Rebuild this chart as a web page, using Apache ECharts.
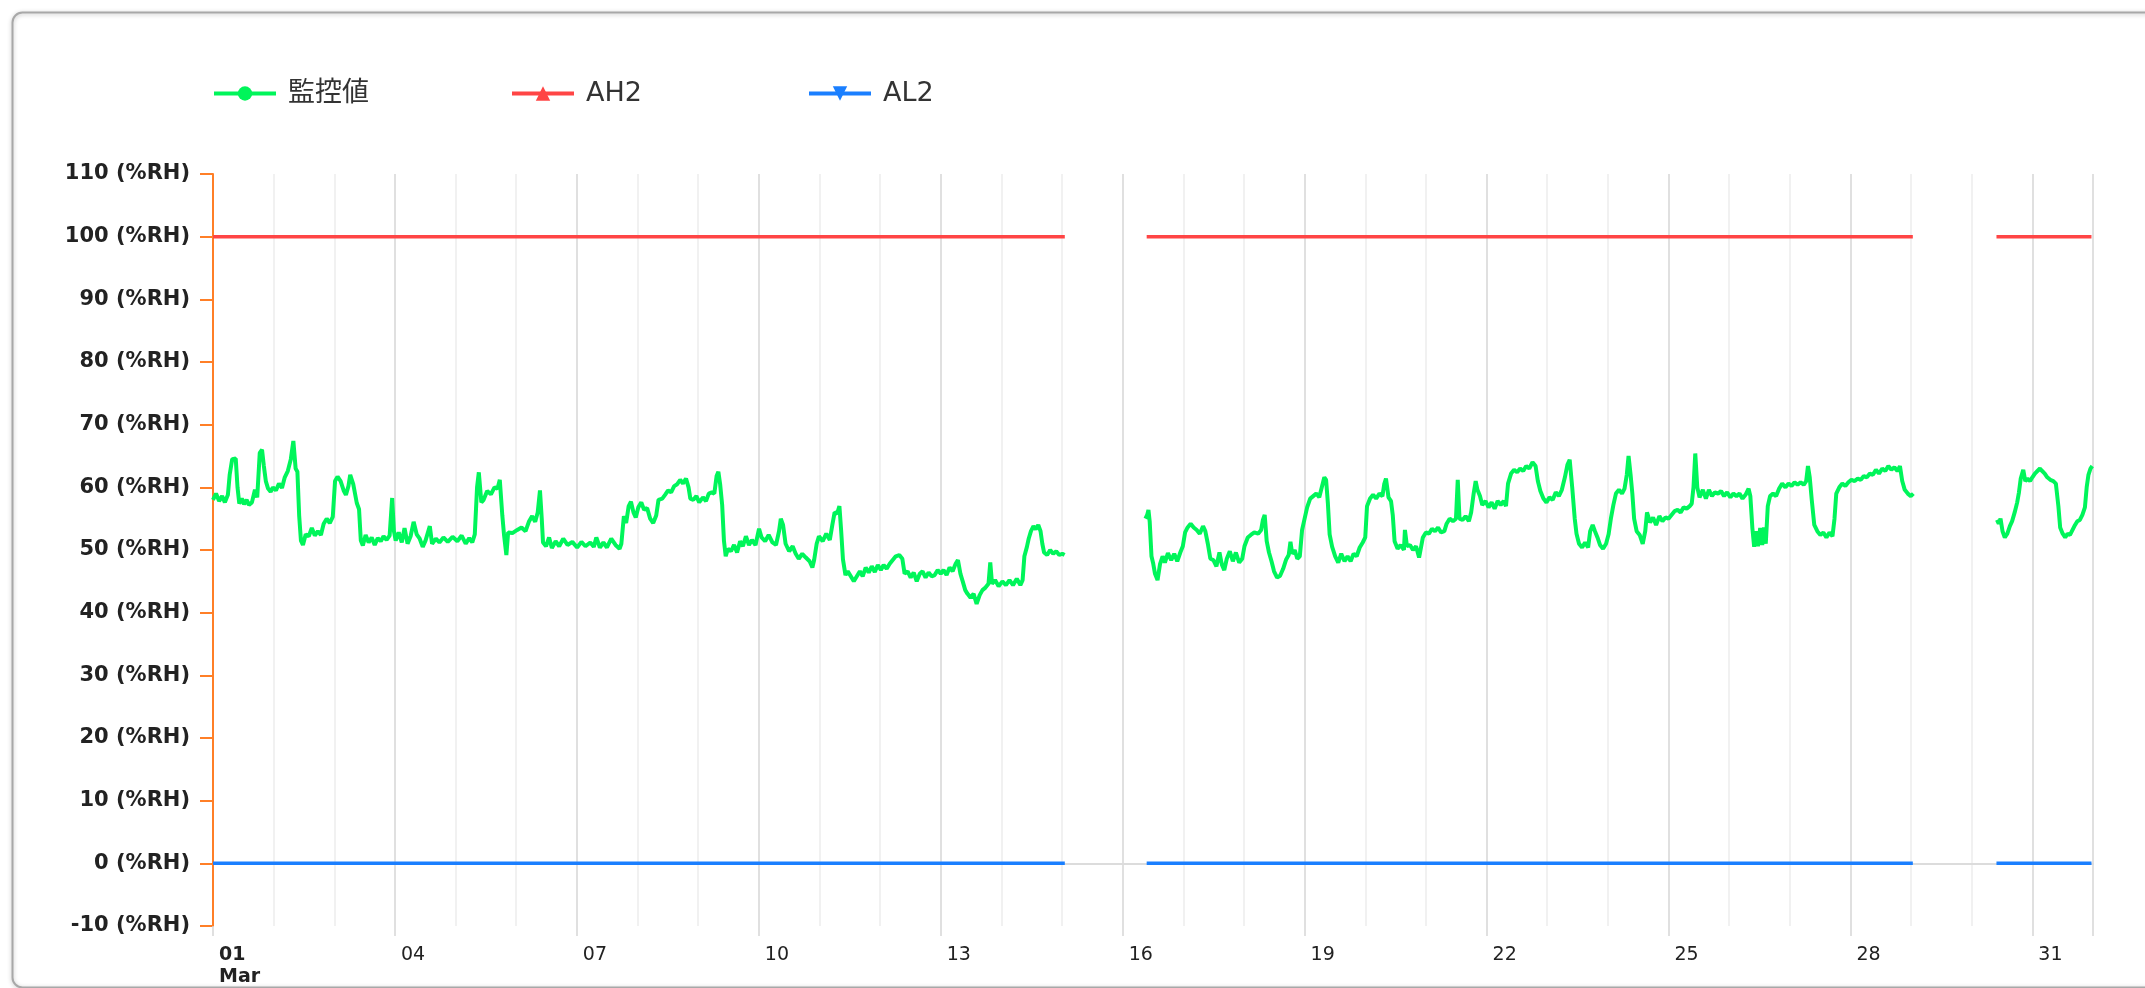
<!DOCTYPE html>
<html>
<head>
<meta charset="utf-8">
<script src="https://cdn.jsdelivr.net/npm/echarts@6/dist/echarts.min.js"></script>
<style>
html,body{margin:0;padding:0;background:#fff;}
#chart{width:2145px;height:988px;}
</style>
</head>
<body>
<div id="chart"></div>
<script>
// x values are hours since 01 Mar 00:00
const seriesNames = ['監控値', 'AH2', 'AL2'];
const xTickLabels = ['01', '04', '07', '10', '13', '16', '19', '22', '25', '28', '31'];
const monthLabel = 'Mar';
const yUnit = '(%RH)';

const monitorSeg1 = [
[0,58.0],[1.2,59.0],[2.4,57.8],[3.6,58.6],[4.7,57.6],[5.9,58.8],[6.6,62.0],[7.6,64.5],[9.0,64.6],[9.7,60],
[10.4,57.4],[11.4,58.2],[12.3,57.3],[13.3,58.0],[14.2,57.2],[15.4,57.6],[16.6,59.6],[17.5,58.4],[18.5,65.5],[19.4,66.0],
[20.1,63.5],[20.9,61.0],[21.8,59.8],[22.8,59.3],[23.7,60.0],[24.9,59.5],[26.1,60.6],[27.3,59.9],[28.4,61.6],[29.6,62.6],
[30.8,64.5],[31.8,67.4],[32.7,63.0],[33.4,62.5],[34.1,55.5],[34.8,51.5],[35.6,50.8],[36.7,52.5],[37.9,52.2],[39.1,53.5],
[40.3,52.3],[41.5,53.0],[42.7,52.4],[43.8,54.2],[45.0,55.0],[46.2,54.3],[47.4,55.3],[48.3,61.0],[49.3,61.7],[50.5,61.0],
[51.7,59.5],[52.6,58.8],[53.6,60.2],[54.3,62.0],[55.5,60.5],[56.9,57.5],[57.8,56.5],[58.5,51.5],[59.3,50.7],[60.4,52.4],
[61.6,51.2],[62.8,52.0],[64.0,50.8],[65.2,51.9],[66.4,51.4],[67.5,52.2],[68.7,51.6],[69.9,52.3],[70.9,58.3],[71.6,53.0],
[72.3,51.5],[73.5,52.8],[74.7,51.2],[75.8,53.5],[77.0,51.0],[78.2,52.2],[79.4,54.5],[80.6,52.5],[81.8,51.8],[83.0,50.5],
[84.1,51.5],[85.8,53.8],[86.7,51.0],[88.2,51.8],[89.6,51.2],[91.2,52.0],[92.9,51.3],[94.8,52.1],[96.7,51.4],[98.4,52.3],
[100.0,51.0],[101.4,51.9],[102.6,51.2],[103.6,52.5],[104.5,60.0],[105.2,62.4],[106.2,57.6],[107.1,58.0],[108.5,59.4],[110.0,58.9],
[111.4,60.0],[112.6,59.8],[113.5,61.2],[114.5,55.5],[115.2,52.3],[116.1,49.2],[116.8,52.8],[118.5,52.7],[120.4,53.2],[122.1,53.6],
[123.7,53.0],[125.1,54.6],[126.3,55.4],[127.5,54.5],[128.5,56.0],[129.4,59.5],[130.1,55.0],[130.6,51.2],[131.8,50.6],[133.0,52.0],
[134.1,50.3],[135.6,51.4],[137.0,50.6],[138.6,51.8],[140.3,50.8],[142.2,51.3],[144.1,50.4],[145.8,51.3],[147.4,50.6],[149.3,51.2],
[150.7,50.5],[151.7,52.0],[153.1,50.4],[154.5,51.2],[155.9,50.4],[157.6,51.8],[159.3,50.8],[160.9,50.2],[161.6,51.0],[162.6,55.4],
[163.5,54.3],[164.5,57.0],[165.4,57.7],[166.4,56.0],[167.3,55.2],[168.3,56.8],[169.5,57.6],[170.6,56.4],[171.8,56.7],[173.0,55.0],
[174.2,54.3],[175.4,55.5],[176.3,58.0],[177.8,58.2],[178.9,58.8],[180.1,59.5],[181.3,59.2],[182.5,60.2],[183.7,60.5],[184.9,61.2],
[186.0,60.6],[187.2,61.4],[188.2,60.0],[188.9,58.2],[190.1,58.0],[191.3,58.6],[192.4,57.6],[193.9,58.4],[195.1,57.8],[196.2,59.0],
[197.4,59.2],[198.4,59.0],[199.3,61.8],[200.0,62.5],[200.7,60.5],[201.5,57.2],[202.2,51.5],[202.9,49.0],[203.8,50.2],[205.0,49.8],
[206.2,50.8],[207.4,49.6],[208.6,51.4],[209.7,50.6],[210.9,52.2],[212.1,50.8],[213.3,51.6],[214.7,50.8],[216.1,53.4],[217.1,52.0],
[218.5,51.4],[219.9,52.4],[221.4,51.2],[222.8,50.8],[224.0,53.0],[224.7,55.0],[225.6,54.0],[226.6,51.0],[228.0,49.8],[229.4,50.6],
[230.6,49.4],[231.8,48.6],[233.2,49.4],[234.6,48.8],[236.1,48.2],[237.2,47.2],[237.9,48.4],[238.9,51.0],[239.8,52.2],[241.3,51.4],
[242.7,52.6],[244.1,51.6],[245.1,54.0],[246.0,56.0],[247.0,55.8],[247.9,57.0],[248.6,53.0],[249.3,48.5],[250.3,46.0],[251.2,46.6],
[252.4,45.8],[253.6,45.0],[254.8,45.8],[256.0,46.6],[257.1,45.8],[258.3,47.2],[259.5,46.4],[260.7,47.4],[261.9,46.5],[263.1,47.6],
[264.3,46.8],[265.4,47.6],[266.6,47.0],[267.8,47.8],[269.0,48.4],[270.2,49.0],[271.6,49.2],[272.8,48.6],[273.7,46.2],[274.9,46.6],
[276.1,45.6],[277.3,46.4],[278.5,45.0],[279.7,46.2],[280.8,46.6],[282.0,45.6],[283.2,46.4],[284.4,45.8],[285.6,46.0],[286.8,46.8],
[288.0,46.2],[289.1,46.8],[290.3,46.0],[291.5,47.2],[292.7,46.6],[293.9,47.8],[294.8,48.4],[295.8,46.2],[296.7,45.0],[297.7,43.6],
[298.6,43.0],[299.8,42.4],[301.0,43.0],[302.2,41.4],[303.4,42.8],[304.5,43.6],[305.7,44.0],[306.9,44.6],[307.6,48.0],[308.3,44.6],
[309.5,45.2],[310.9,44.2],[312.4,45.0],[313.8,44.4],[315.2,45.2],[316.6,44.4],[318.1,45.4],[319.5,44.4],[320.4,45.2],[321.1,49.0],
[322.1,50.5],[322.8,51.8],[323.7,53.0],[324.7,53.8],[325.6,53.3],[326.6,54.0],[327.5,53.0],[328.2,51.0],[328.9,49.6],[330.1,49.2],
[331.3,50.0],[332.5,49.4],[333.7,49.8],[334.9,49.2],[336.1,49.4],[337.0,49.2]
];

const monitorSeg2 = [
[369.0,55.0],[369.7,55.6],[370.2,56.4],[370.7,54.5],[371.4,49.0],[372.1,47.8],[372.8,46.2],[373.8,45.2],[374.8,47.8],[375.8,49.0],
[376.7,48.0],[377.9,49.5],[379.2,48.4],[380.4,49.4],[381.6,48.2],[382.8,49.6],[383.8,50.6],[384.7,52.8],[385.7,53.6],[386.9,54.2],
[388.1,53.6],[389.3,53.2],[390.5,52.6],[391.8,53.8],[392.7,53.0],[393.7,51.0],[394.7,48.6],[395.9,48.4],[397.1,47.4],[398.3,49.6],
[399.3,47.6],[400.2,46.8],[401.2,48.6],[402.4,49.8],[403.6,48.2],[404.8,49.6],[406.1,48.0],[407.3,48.6],[408.2,50.6],[409.5,52.0],
[410.7,52.4],[412.1,52.8],[413.6,52.6],[414.8,53.2],[415.5,54.8],[416.2,55.6],[417.0,51.4],[417.9,49.6],[418.9,48.2],[419.9,46.6],
[421.1,45.6],[422.3,45.9],[423.5,47.0],[424.7,48.5],[425.7,49.2],[426.4,51.3],[427.1,49.4],[428.1,50.0],[429.1,48.6],[430.1,49.0],
[431.0,53.2],[432.0,55.0],[433.0,56.8],[434.2,58.2],[435.4,58.6],[436.6,59.0],[437.8,58.4],[438.8,60.0],[439.8,61.6],[440.5,61.2],
[441.2,57.5],[441.9,52.5],[442.9,50.5],[444.1,49.0],[445.3,48.0],[446.5,49.4],[447.8,48.2],[449.0,49.0],[450.2,48.2],[451.4,49.4],
[452.6,49.0],[453.8,50.4],[455.0,51.2],[456.0,52.0],[456.7,57.0],[457.9,58.2],[459.1,58.8],[460.3,58.2],[461.6,59.0],[462.8,58.6],
[463.5,60.5],[464.2,61.4],[465.2,58.4],[466.2,57.8],[466.9,55.5],[467.6,51.4],[468.8,50.2],[470.0,50.8],[471.3,50.0],[471.7,53.2],
[472.5,50.6],[473.7,50.8],[474.9,50.0],[476.1,50.6],[477.3,48.8],[478.1,50.5],[478.8,52.0],[480.0,52.8],[481.2,52.6],[482.4,53.4],
[483.6,53.0],[484.8,53.6],[486.0,52.8],[487.3,53.0],[488.2,54.2],[489.4,55.0],[490.7,54.6],[491.9,55.0],[492.6,61.2],[493.3,55.0],
[494.5,54.8],[495.7,55.4],[497.0,54.6],[497.9,56.0],[498.9,59.0],[499.7,61.0],[500.4,59.6],[501.4,58.6],[502.3,57.2],[503.6,57.8],
[504.8,56.8],[506.0,57.6],[507.2,56.6],[508.4,57.8],[509.6,57.2],[510.8,57.8],[511.7,57.0],[512.5,60.6],[513.7,62.2],[514.9,62.8],
[516.1,62.4],[517.3,63.0],[518.5,62.6],[519.7,63.4],[520.9,63.0],[522.2,64.0],[523.4,63.4],[524.3,61.0],[525.3,59.4],[526.5,58.2],
[527.7,57.6],[528.9,58.4],[530.2,58.0],[531.4,59.2],[532.6,58.6],[533.8,59.6],[535.0,61.6],[536.0,63.6],[536.9,64.4],[537.9,60.0],
[538.9,55.0],[539.6,52.6],[540.6,51.0],[541.8,50.4],[543.0,51.2],[544.2,50.4],[545.0,53.0],[546.0,54.0],[546.9,53.0],[547.9,52.0],
[548.9,50.8],[550.1,50.2],[551.3,51.0],[552.3,52.5],[553.2,55.0],[554.2,57.2],[555.2,59.0],[556.4,59.6],[557.6,59.0],[558.6,59.8],
[559.5,62.0],[560.2,65.0],[561.0,62.0],[561.7,59.0],[562.4,55.0],[563.4,53.0],[564.6,52.4],[565.8,51.0],[566.8,53.0],[567.5,56.0],
[568.7,54.4],[569.9,55.2],[571.1,54.0],[572.4,55.4],[573.6,54.6],[574.8,55.2],[576.0,55.0],[577.2,55.6],[578.4,56.2],[579.6,56.4],
[580.8,56.0],[582.0,56.8],[583.2,56.6],[584.4,57.0],[585.2,57.4],[585.9,60.0],[586.6,65.4],[587.4,60.0],[588.3,58.4],[589.6,59.6],
[590.8,58.2],[592.0,59.6],[593.2,58.6],[594.4,59.2],[595.6,59.0],[596.8,59.4],[598.0,58.6],[599.2,59.2],[600.5,58.4],[601.7,59.0],
[602.9,58.6],[604.1,59.0],[605.3,58.2],[606.5,58.8],[607.7,59.8],[608.4,58.6],[609.2,53.5],[609.9,50.5],[610.6,53.0],[611.4,50.6],
[612.3,53.5],[613.1,50.8],[613.8,53.6],[614.5,51.0],[615.3,57.0],[616.2,58.6],[617.4,59.0],[618.6,58.6],[619.8,59.8],[621.0,60.6],
[622.3,60.0],[623.5,60.6],[624.7,60.2],[625.9,60.8],[627.1,60.4],[628.3,60.8],[629.5,60.4],[630.5,61.0],[631.2,63.4],[631.9,61.6],
[632.7,58.0],[633.7,54.0],[634.9,53.0],[636.1,52.4],[637.3,52.8],[638.5,52.0],[639.7,52.8],[640.9,52.2],[641.7,55.0],[642.4,59.0],
[643.6,60.0],[644.8,60.6],[646.0,60.2],[647.2,60.8],[648.4,61.2],[649.7,61.0],[650.9,61.4],[652.1,61.2],[653.3,61.8],[654.5,61.6],
[655.7,62.2],[656.9,62.0],[658.1,62.8],[659.3,62.2],[660.6,63.0],[661.8,62.6],[663.0,63.4],[664.2,62.8],[665.4,63.2],[666.6,62.6],
[667.6,63.4],[668.5,61.0],[669.5,59.6],[670.7,59.0],[671.9,58.6],[672.9,59.0]
];

const monitorSeg3 = [
[706.0,54.8],[706.7,54.2],[707.4,55.0],[708.2,53.0],[709.1,52.0],[710.1,52.6],[711.1,53.8],[712.0,54.6],[713.0,56.0],[714.0,57.6],
[714.7,59.2],[715.4,61.4],[716.4,62.8],[717.2,61.0],[718.1,61.4],[719.1,61.0],[720.0,61.6],[721.0,62.2],[722.0,62.6],[723.0,63.0],
[723.9,62.6],[724.9,62.2],[725.9,61.6],[727.1,61.2],[728.3,61.0],[729.3,60.6],[730.3,57.0],[731.0,53.6],[732.0,52.6],[733.0,52.0],
[733.9,52.6],[734.9,52.4],[735.9,53.2],[736.9,54.0],[737.8,54.6],[738.8,54.8],[739.8,55.6],[740.8,56.8],[741.5,60.0],[742.2,62.0],
[743.0,63.0],[743.7,63.4]
];

// threshold segments: [start hour, end hour]
const segmentRanges = [[0, 337.1], [369.5, 672.7], [705.8, 743.4]];
const ah2Value = 100;
const al2Value = 0;

function joinSegments(segs) {
  const out = [];
  segs.forEach((s, i) => {
    if (i > 0) out.push([s[0][0] - 0.01, '-']);
    s.forEach(p => out.push(p));
  });
  return out;
}
function constSegments(v) {
  return joinSegments(segmentRanges.map(r => [[r[0], v], [r[1], v]]));
}

const chart = echarts.init(document.getElementById('chart'), null, {renderer: 'canvas'});
const font = 'DejaVu Sans, Noto Sans CJK JP, sans-serif';
const colors = ['#00f55a', '#ff4545', '#1a7fff'];
const legendLefts = [207, 505, 802];

const option = {
  animation: false,
  backgroundColor: '#ffffff',
  graphic: [{
    type: 'rect', left: 10, top: 10, z: -10, silent: true,
    shape: {width: 2300, height: 975, r: 10},
    style: {fill: 'none', stroke: '#a8a8a8', lineWidth: 2, shadowBlur: 4, shadowColor: 'rgba(0,0,0,0.25)', shadowOffsetY: 1}
  }],
  legend: seriesNames.map((n, i) => ({
    left: legendLefts[i], top: 75,
    itemWidth: 62, itemHeight: 18, itemGap: 10,
    lineStyle: {width: 4},
    textStyle: {fontFamily: font, fontSize: 27, color: '#333', padding: [0, 0, 0, 7]},
    data: [n]
  })),
  grid: {left: 213, top: 174, width: 1880, height: 752, containLabel: false},
  xAxis: [{
    type: 'value', min: 0, max: 744, interval: 24,
    axisLine: {show: true, lineStyle: {color: '#dcdcdc', width: 2}},
    axisTick: {show: false}, axisLabel: {show: false},
    splitLine: {show: true, lineStyle: {color: '#ececec', width: 1.5}}
  }, {
    type: 'value', min: 0, max: 744, interval: 72, position: 'bottom',
    axisLine: {show: false},
    axisTick: {show: true, length: 10, lineStyle: {color: '#d6d6d6', width: 1.5}},
    splitLine: {show: true, lineStyle: {color: '#dadada', width: 1.5}},
    axisLabel: {
      show: true, align: 'left', margin: 18, padding: [0, 0, 0, 6],
      fontFamily: font, fontSize: 19, color: '#222', lineHeight: 22,
      formatter: function (v) {
        const i = Math.round(v / 72);
        if (v % 72 !== 0 || i >= xTickLabels.length) return '';
        if (i === 0) return '{b|' + xTickLabels[0] + '}\n{b|' + monthLabel + '}';
        return xTickLabels[i];
      },
      rich: {b: {fontFamily: font, fontSize: 19, fontWeight: 'bold', color: '#222', lineHeight: 22}}
    }
  }],
  yAxis: {
    type: 'value', min: -10, max: 110, interval: 10,
    axisLine: {show: true, lineStyle: {color: '#ff7f27', width: 2}},
    axisTick: {show: true, length: 13, lineStyle: {color: '#ff7f27', width: 2}},
    splitLine: {show: false},
    axisLabel: {
      margin: 23, fontFamily: font, fontSize: 21, fontWeight: 'bold', color: '#222',
      formatter: v => v + ' ' + yUnit
    }
  },
  series: [{
    name: seriesNames[0], type: 'line', xAxisIndex: 0,
    data: joinSegments([monitorSeg1, monitorSeg2, monitorSeg3]),
    showSymbol: false, symbol: 'circle', symbolSize: 16,
    lineStyle: {color: colors[0], width: 4}, itemStyle: {color: colors[0]}, z: 3
  }, {
    name: seriesNames[1], type: 'line', xAxisIndex: 0,
    data: constSegments(ah2Value),
    showSymbol: false, symbol: 'triangle', symbolSize: 16,
    lineStyle: {color: colors[1], width: 3.5}, itemStyle: {color: colors[1]}, z: 2
  }, {
    name: seriesNames[2], type: 'line', xAxisIndex: 0,
    data: constSegments(al2Value),
    showSymbol: false, symbol: 'triangle', symbolRotate: 180, symbolSize: 16,
    lineStyle: {color: colors[2], width: 3.5}, itemStyle: {color: colors[2]}, z: 2
  }]
};
chart.setOption(option);
</script>
</body>
</html>
